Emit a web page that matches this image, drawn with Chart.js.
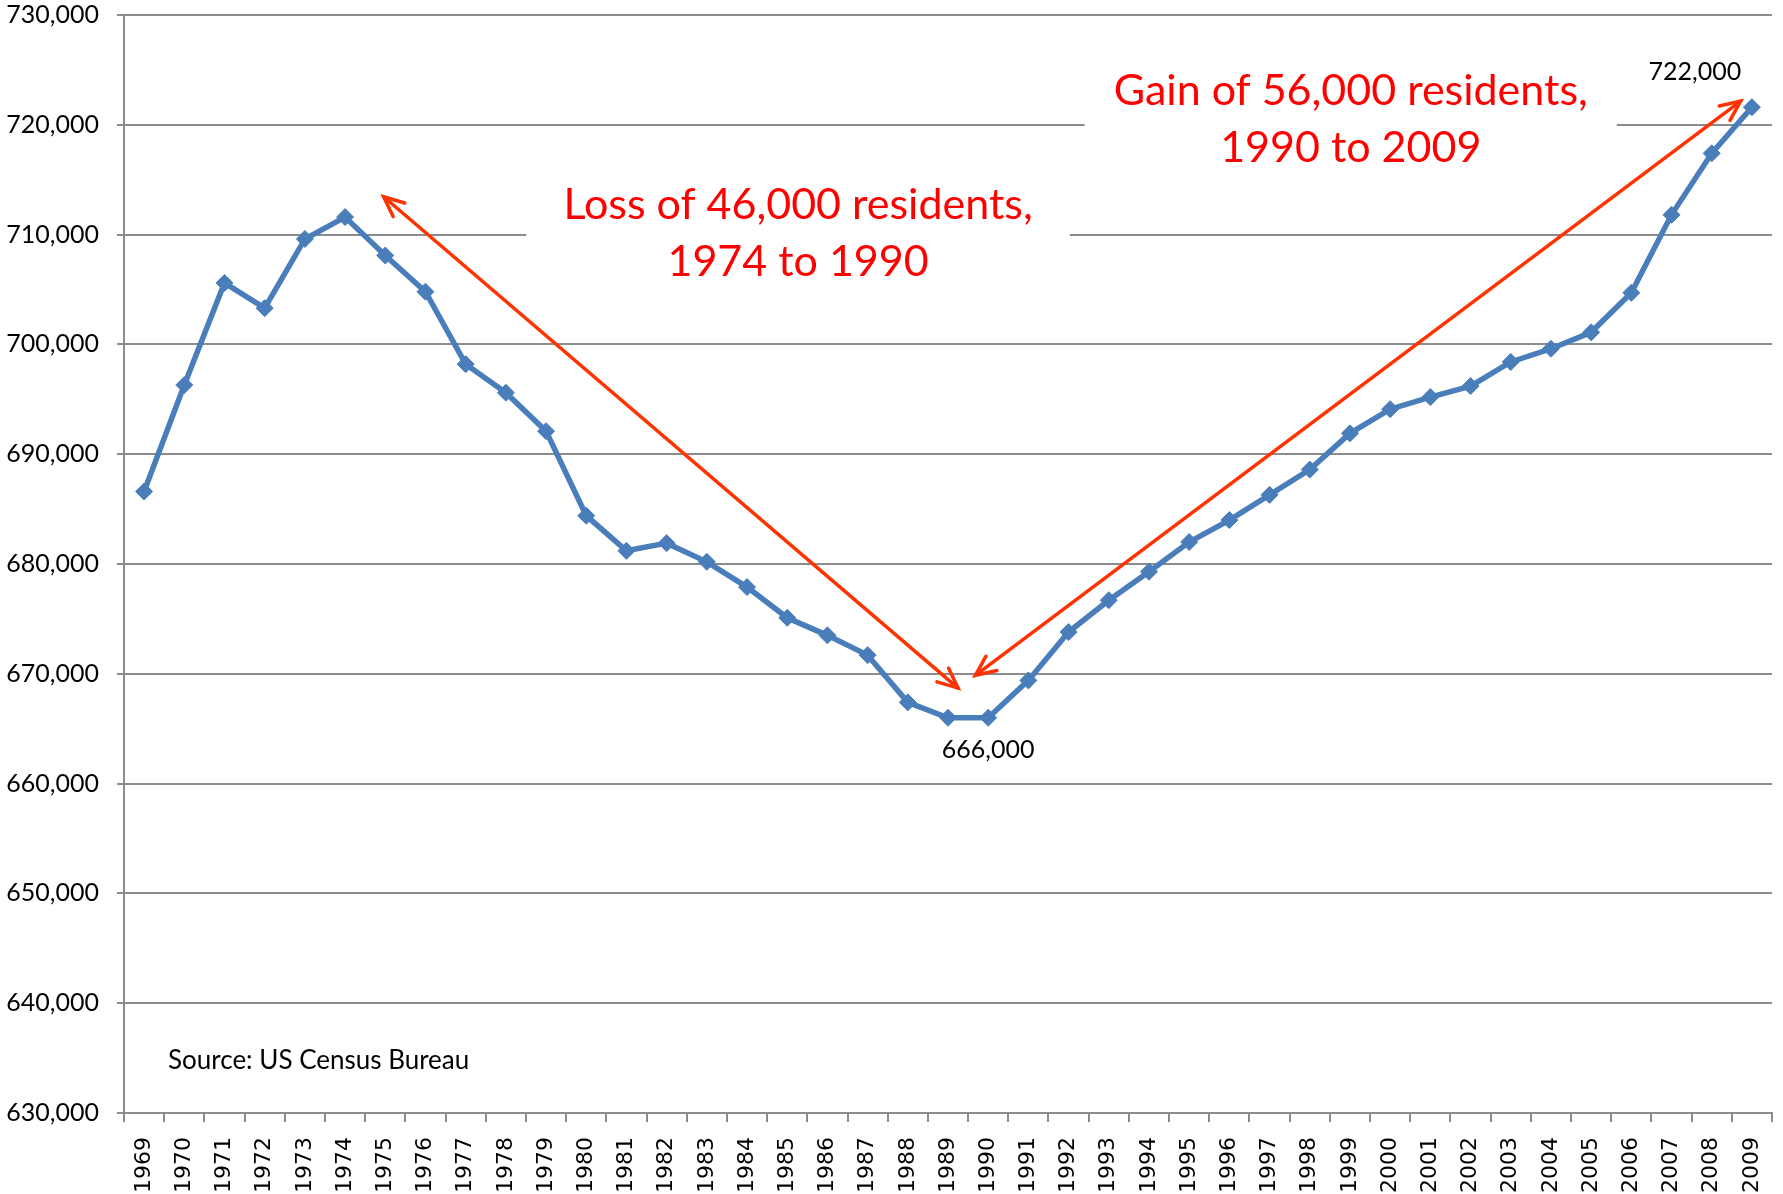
<!DOCTYPE html>
<html>
<head>
<meta charset="utf-8">
<script src="https://cdn.jsdelivr.net/npm/chart.js@4.4.0/dist/chart.umd.min.js"></script>
<style>
    body { margin: 0; background: #fff; }
    #wrap { width: 1783px; height: 1194px; }
</style>
</head>
<body>
<div id="wrap"><canvas id="popChart" width="1783" height="1194"></canvas></div>
<script>
// --- Data ---
const years = ['1969', '1970', '1971', '1972', '1973', '1974', '1975', '1976', '1977', '1978',
    '1979', '1980', '1981', '1982', '1983', '1984', '1985', '1986', '1987', '1988',
    '1989', '1990', '1991', '1992', '1993', '1994', '1995', '1996', '1997', '1998',
    '1999', '2000', '2001', '2002', '2003', '2004', '2005', '2006', '2007', '2008', '2009'];

const population = [686600, 696300, 705600, 703300, 709600, 711600, 708100, 704800, 698200, 695600,
    692100, 684400, 681200, 681900, 680200, 677900, 675100, 673500, 671700, 667400,
    666000, 666000, 669400, 673800, 676700, 679300, 682000, 684000, 686300, 688600,
    691900, 694100, 695200, 696200, 698400, 699600, 701100, 704700, 711800, 717400, 721600];

const yTickValues = [630000, 640000, 650000, 660000, 670000, 680000, 690000, 700000, 710000, 720000, 730000];

// arrows: [category index, value] pairs
const lossArrow = [[5.96, 713450], [20.25, 668700]];
const gainArrow = [[20.68, 669850], [39.72, 722160]];

const lossText = ['Loss of 46,000 residents,', '1974 to 1990'];
const lossTextAt = [16.27, 712700];
const gainText = ['Gain of 56,000 residents,', '1990 to 2009'];
const gainTextAt = [30.02, 723100];

const lowLabel = '666,000';
const highLabel = '722,000';
const sourceNote = 'Source: US Census Bureau';

// --- Colours ---
const BLUE = '#4A7EBB';
const GRID = '#8C8C8C';
const ARROW = '#FF3300';
const NOTE_RED = '#FF0000';

function drawArrowHead(ctx, fromX, fromY, tipX, tipY) {
    const ang = Math.atan2(tipY - fromY, tipX - fromX);
    const len = 22, spread = 0.42;
    ctx.beginPath();
    ctx.moveTo(tipX - len * Math.cos(ang - spread), tipY - len * Math.sin(ang - spread));
    ctx.lineTo(tipX, tipY);
    ctx.lineTo(tipX - len * Math.cos(ang + spread), tipY - len * Math.sin(ang + spread));
    ctx.stroke();
}

function drawArrow(chart, pts) {
    const ctx = chart.ctx;
    const xs = chart.scales.x, ys = chart.scales.y;
    const x1 = xs.getPixelForValue(pts[0][0]), y1 = ys.getPixelForValue(pts[0][1]);
    const x2 = xs.getPixelForValue(pts[1][0]), y2 = ys.getPixelForValue(pts[1][1]);
    ctx.save();
    ctx.strokeStyle = ARROW;
    ctx.lineWidth = 3.5;
    ctx.lineCap = 'round';
    ctx.beginPath();
    ctx.moveTo(x1, y1);
    ctx.lineTo(x2, y2);
    ctx.stroke();
    drawArrowHead(ctx, x2, y2, x1, y1);
    drawArrowHead(ctx, x1, y1, x2, y2);
    ctx.restore();
}

function drawNote(chart, lines, at, padX) {
    const ctx = chart.ctx;
    const cx = chart.scales.x.getPixelForValue(at[0]);
    const cy = chart.scales.y.getPixelForValue(at[1]);
    const lineH = 57;
    ctx.save();
    ctx.font = '43px Lato';
    const w = Math.max(...lines.map(l => ctx.measureText(l).width));
    // white box hides the gridlines behind the note
    ctx.fillStyle = '#fff';
    ctx.fillRect(cx - w / 2 - padX, cy - 45, w + padX * 2, lineH * (lines.length - 1) + 85);
    ctx.fillStyle = NOTE_RED;
    ctx.textAlign = 'center';
    ctx.textBaseline = 'middle';
    lines.forEach((l, i) => ctx.fillText(l, cx, cy + i * lineH));
    ctx.restore();
}

const notesPlugin = {
    id: 'notes',
    beforeDatasetsDraw(chart) {
        drawNote(chart, lossText, lossTextAt, 37);
        drawNote(chart, gainText, gainTextAt, 29);
    },
    afterDatasetsDraw(chart) {
        const ctx = chart.ctx;
        drawArrow(chart, lossArrow);
        drawArrow(chart, gainArrow);

        const pts = chart.getDatasetMeta(0).data;
        const low = pts[21], high = pts[pts.length - 1];
        ctx.save();
        ctx.fillStyle = '#000';
        ctx.font = '25px Lato';
        ctx.textAlign = 'center';
        ctx.textBaseline = 'middle';
        ctx.fillText(lowLabel, low.x, low.y + 32);
        ctx.fillText(highLabel, high.x - 57, high.y - 35);

        const area = chart.chartArea;
        ctx.textAlign = 'left';
        ctx.font = '26px Lato';
        ctx.fillText(sourceNote, area.left + 44, area.bottom - 52);
        ctx.restore();
    }
};

const ctx = document.getElementById('popChart').getContext('2d');
new Chart(ctx, {
    type: 'line',
    data: {
        labels: years,
        datasets: [{
            data: population,
            borderColor: BLUE,
            backgroundColor: BLUE,
            borderWidth: 5.5,
            tension: 0,
            pointStyle: 'rectRot',
            pointRadius: 8.5,
            pointBorderWidth: 1,
            pointBackgroundColor: BLUE,
            pointBorderColor: BLUE
        }]
    },
    options: {
        responsive: false,
        animation: false,
        devicePixelRatio: 1,
        layout: { padding: { top: 15, right: 11, left: 0, bottom: 0 } },
        plugins: {
            legend: { display: false },
            tooltip: { enabled: false }
        },
        scales: {
            x: {
                offset: true,
                grid: {
                    offset: true,
                    drawOnChartArea: false,
                    drawTicks: true,
                    tickLength: 9,
                    color: GRID,
                    lineWidth: 2
                },
                border: { color: GRID, width: 2 },
                ticks: {
                    color: '#000',
                    font: { family: 'DejaVu Sans', size: 22 },
                    minRotation: 90,
                    maxRotation: 90,
                    autoSkip: false,
                    padding: 15
                },
                afterFit(scale) {
                    scale.height = 81;
                    scale.paddingLeft = 0;
                    scale.paddingRight = 0;
                }
            },
            y: {
                min: 630000,
                max: 730000,
                afterBuildTicks(scale) {
                    scale.ticks = yTickValues.map(v => ({ value: v }));
                },
                grid: {
                    color: GRID,
                    lineWidth: 2,
                    tickLength: 7
                },
                border: { color: GRID, width: 2 },
                ticks: {
                    color: '#000',
                    font: { family: 'Lato', size: 25 },
                    padding: 18,
                    callback: v => v.toLocaleString('en-US')
                },
                afterFit(scale) {
                    scale.width = 124;
                    scale.paddingTop = 0;
                    scale.paddingBottom = 0;
                }
            }
        }
    },
    plugins: [notesPlugin]
});
</script>
</body>
</html>
